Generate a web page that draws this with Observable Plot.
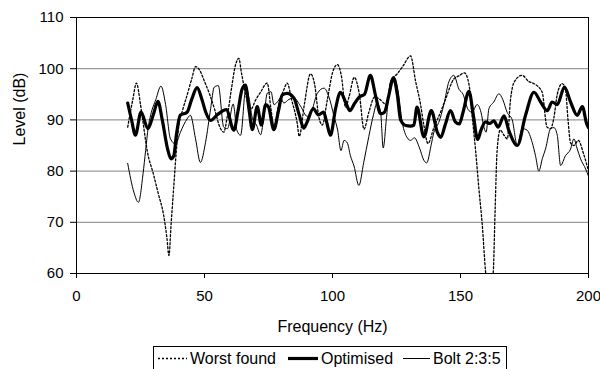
<!DOCTYPE html>
<html>
<head>
<meta charset="utf-8">
<script src="https://cdn.jsdelivr.net/npm/d3@7"></script>
<script src="https://cdn.jsdelivr.net/npm/@observablehq/plot@0.6"></script>
<style>
  body { margin: 0; background: #fff; }
  #wrap { position: relative; width: 600px; height: 369px; overflow: hidden; background: #fff;
          font-family: "Liberation Sans", Arial, sans-serif; color: #000; }
  #chart { position: absolute; left: 0; top: 0; }
  #legend { position: absolute; left: 153px; top: 346px; }
</style>
</head>
<body>
<div id="wrap">
  <div id="chart"></div>
  <svg id="legend" width="355" height="30"></svg>
</div>
<script>
// ---- Data ----
const seriesNames = ["Worst found", "Optimised", "Bolt 2:3:5"];
const xTitle = "Frequency (Hz)";
const yTitle = "Level (dB)";
const xTicks = [0, 50, 100, 150, 200];
const yTicks = [60, 70, 80, 90, 100, 110];
const gridTicks = [70, 80, 90, 100];

const worstHz = [20,22,23.4,25,26,27.6,30,32,34,35.3,36.1,37,38,39,40,41.5,43,45,46.5,48,50,52,54,56,57.5,59,60.5,62,63.4,64.5,66,68,70,72,74.5,76,77.1,79,81,82.3,84,86.2,87,89,91.4,93,94.7,96,98,100,101.9,103.5,105.1,106.5,108.5,110.5,112.3,114.2,116.5,118.5,121,123,125.3,127.5,130.5,132.4,134.4,135.7,137.3,139.6,142.2,144.2,147.4,149.4,151.5,153.3,154.6,155.9,157.2,158.5,159.8,161.3,162.8,163.5,164.3,165.5,167,168.3,169.5,171,174,176.7,179,181.9,183.8,185.2,186.5,187.8,189.7,191,192,193,194.3,196,198,200];
const worstDb = [88.6,94,97.2,93,89.5,84,79.5,75.5,71.5,67,63.5,70,77,84,89,92,94.5,98,100.4,99.8,97.5,95,92,88.6,87.6,91,96,100.5,102,99,95.2,92,93.9,95.5,97.2,92,88.7,93,95.9,97.2,94,89.4,86.8,93,99,97,90.5,89,94,99.2,100.8,98.5,92.5,94.6,98.3,95,88.2,91.5,94.5,94,93,97.8,99,100.5,102.5,97.7,93,88.9,85.4,88.5,91.5,94.1,98,98.6,99.2,97,90.5,84,76.5,69.5,60.3,55,60.3,72,84,88,87,86.3,93.8,97.4,98.7,97.5,97,95.4,88.6,88.3,90.5,95,97.1,96,90,85.5,85,86,83.5,80];

const optHz = [20,21.5,23,25.2,27.9,30,31.8,33.5,35.5,36.9,38,39,40.5,43.2,45,47.1,49,50.5,52.4,55,58.5,61.5,63,64.7,66,67.4,68.7,70.6,72.2,73.9,75,77.1,78.8,80.4,82.3,84.9,87,88.8,90,92.5,94.5,96.5,97.7,99.2,101.2,103.1,105.1,106.8,108.6,110.5,112.5,114.8,116.8,118.8,120.3,122,123.8,125.3,126.6,128.6,130.5,131.8,133,135.7,138.6,141,142.3,144,146.1,148,149.5,151,153.3,155,156.7,158,159.8,161.5,163,164.7,167,168.9,172.2,175.4,178.7,181.3,183.9,185.8,187.8,190.6,193,195.6,197.6,199.3,200];
const optDb = [93.3,90,87,91.5,88.3,91,93.6,90,84.5,82.4,83,87,90.9,91.5,94,96.3,94,91.5,89.9,91,92,88,91.5,96,96.8,92,88.1,92.6,89,93,92.5,88.1,91.5,94.9,95.2,94.3,91,88.4,89.5,92.2,91,91.5,89.6,87,92.2,95.4,93.5,91.8,93.2,94.5,95,98.7,94.8,91.2,91.5,94.8,98.2,95,90,88.9,88.8,89,92.5,86.7,91.8,87.5,86.6,89,91.8,89.6,89.2,91.5,95.6,91,86.2,88,89.6,89.3,89.8,88.6,90.8,87.9,85,90.9,95.4,93.5,91.8,93.5,93,96.4,93.5,90.9,92.6,89.2,88.5];

const boltHz = [20,22.4,24.2,26,27,28,29,31,33,34.8,36.7,38.7,40.6,43.2,44.5,46.5,48.4,50.4,52.4,53.8,55.4,57.5,59,61.2,62.7,64.1,66.2,67.5,68.7,70.3,71.9,73.3,74.5,76,77.1,78.5,79.7,81,83,84.9,87.5,90.1,92,94.1,96.7,98.6,100.6,102,103.3,104.5,105.8,107,108.4,110.3,112.2,114.2,116,117.4,118.8,119.8,121.1,122.7,124.3,125.5,127.3,129.2,130.5,132,134,135.7,136.8,138.5,139.6,141.5,143.5,145.5,147.4,149.4,151,153,154.5,156.5,158,159.2,160,161.1,163,165,166.5,168.2,170.2,172.2,174.1,176,178,179.3,180.6,182,183.2,185.2,186.5,187.8,189.1,191,193,194.3,195.5,196.9,198.9,200];
const boltDb = [81.5,75.9,73.9,79.5,84,88.5,91,94,96.6,93,86.3,85.3,87.6,90.2,90.9,86.3,81.7,85.6,92.2,96.4,96.7,88.6,88.3,93.1,87.9,87,96.4,94,90.3,89,87.1,91,95.2,95.5,93,93.5,94.3,93.3,94,94.3,92.7,90.7,92,95.2,96.2,94.5,90.7,88,84,86,85.5,83,81,77.2,81.7,86.8,91,93.3,91.5,84.5,90.5,97.5,98.2,96,89.4,86.5,86,86.5,84.5,82.1,81.6,85,87.6,89.5,93,97.5,98.7,96,95,92,91.5,93,91.5,88.5,87.6,92.2,93.5,95.1,94,91.5,90,85,88.3,88,85.6,83,80,82.5,84.3,88.3,88.5,87,81.1,83,84.3,86.3,84.5,82.4,80.4,79];

// ---- Build tables ----
const toRows = (hz, db) => hz.map((h, i) => ({hz: h, db: db[i]}));
const worst = toRows(worstHz, worstDb);
const opt = toRows(optHz, optDb);
const bolt = toRows(boltHz, boltDb);

const styles = {
  "Worst found": {stroke: "#000", strokeWidth: 1.3, strokeDasharray: "2,2"},
  "Optimised": {stroke: "#000", strokeWidth: 3.2},
  "Bolt 2:3:5": {stroke: "#000", strokeWidth: 1}
};

const chart = Plot.plot({
  width: 600,
  height: 342,
  marginLeft: 76,
  marginRight: 12,
  marginTop: 17,
  marginBottom: 69,
  style: {fontFamily: "'Liberation Sans', Arial, sans-serif", fontSize: "15px", color: "#000", background: "#fff", overflow: "visible"},
  x: {domain: [0, 200]},
  y: {domain: [60, 110]},
  marks: [
    Plot.gridY(gridTicks, {stroke: "#808080", strokeOpacity: 1, strokeWidth: 1}),
    Plot.line(bolt, {x: "hz", y: "db", curve: "monotone-x", clip: true, ...styles["Bolt 2:3:5"]}),
    Plot.line(worst, {x: "hz", y: "db", curve: "monotone-x", clip: true, ...styles["Worst found"]}),
    Plot.line(opt, {x: "hz", y: "db", curve: "monotone-x", clip: true, strokeLinejoin: "round", ...styles["Optimised"]}),
    Plot.frame({stroke: "#000", strokeWidth: 1}),
    Plot.axisX({ticks: xTicks, tickSize: 5, tickPadding: 12, label: null, fontSize: 15}),
    Plot.axisY({ticks: yTicks, tickSize: 6, tickPadding: 7, label: null, fontSize: 15}),
    Plot.text([xTitle], {frameAnchor: "bottom", dy: 53, fontSize: 16, lineAnchor: "middle"}),
    Plot.text([yTitle], {frameAnchor: "left", dx: -57, rotate: -90, fontSize: 16, lineAnchor: "middle"})
  ]
});
document.getElementById("chart").appendChild(chart);

// ---- Legend ----
const lg = d3.select("#legend");
lg.append("rect").attr("x", 0.5).attr("y", 0.5).attr("width", 353).attr("height", 40)
  .attr("fill", "#fff").attr("stroke", "#000").attr("stroke-width", 1);
const items = [
  {name: seriesNames[0], x1: 5, x2: 34, tx: 37},
  {name: seriesNames[1], x1: 135, x2: 165, tx: 168},
  {name: seriesNames[2], x1: 250, x2: 277, tx: 280}
];
items.forEach(it => {
  const s = styles[it.name];
  lg.append("line").attr("x1", it.x1).attr("x2", it.x2).attr("y1", 12.5).attr("y2", 12.5)
    .attr("stroke", s.stroke).attr("stroke-width", s.strokeWidth)
    .attr("stroke-dasharray", s.strokeDasharray || null);
  lg.append("text").attr("x", it.tx).attr("y", 18)
    .attr("font-family", "'Liberation Sans', Arial, sans-serif").attr("font-size", 16)
    .attr("fill", "#000").text(it.name);
});
</script>
</body>
</html>
